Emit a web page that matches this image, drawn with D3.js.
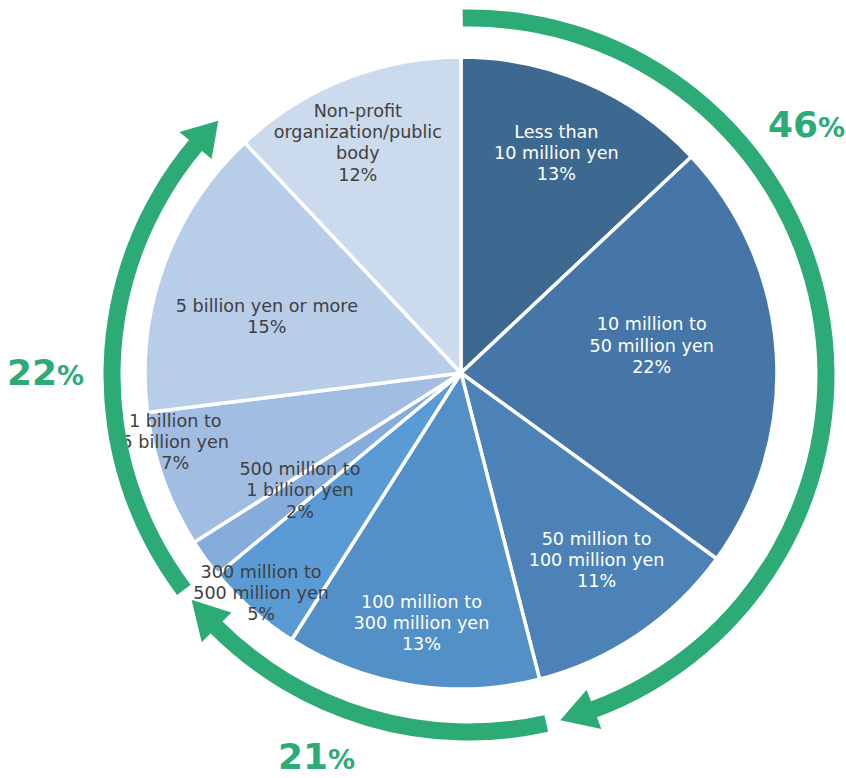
<!DOCTYPE html>
<html>
<head>
<meta charset="utf-8">
<script src="https://cdn.jsdelivr.net/npm/d3@7"></script>
<style>
  body { margin: 0; background: #ffffff; }
  svg { display: block; }
</style>
</head>
<body>
<svg id="chart" width="846" height="778"></svg>
<script>
// Capital size categories (clockwise from 12 o'clock)
const categories = [
  ["Less than", "10 million yen"],
  ["10 million to", "50 million yen"],
  ["50 million to", "100 million yen"],
  ["100 million to", "300 million yen"],
  ["300 million to", "500 million yen"],
  ["500 million to", "1 billion yen"],
  ["1 billion to", "5 billion yen"],
  ["5 billion yen or more"],
  ["Non-profit", "organization/public", "body"]
];
// Share of respondents, %
const shares = [13, 22, 11, 13, 5, 2, 7, 15, 12];
const sliceColors = ["#3d6991", "#4676a7", "#4c82b8", "#5390c7", "#5a9ad5",
                     "#86acdb", "#a2bde2", "#b8cde8", "#cbdaed"];
const labelColors = ["#ffffff", "#ffffff", "#ffffff", "#ffffff", "#404040",
                     "#404040", "#404040", "#404040", "#404040"];
// Group totals shown around the ring (small / mid / large companies)
const groupShares = [46, 21, 22];

// Label placement: fraction of radius and angular nudge (degrees)
const labelRadius = [0.76, 0.61, 0.73, 0.80, 0.94, 0.63, 0.93, 0.64, 0.80];
const labelTurn   = [0, -4.7, -1.8, 0, 0.9, 0, 6.3, -3.5, -2.5];

const svg = d3.select("#chart");
const cx = 461, cy = 373, R = 316;
const deg = Math.PI / 180;

const pie = d3.pie().sort(null).value(d => d);
const arcs = pie(shares);
const arcGen = d3.arc().innerRadius(0).outerRadius(R);

const g = svg.append("g").attr("transform", `translate(${cx},${cy})`);

g.selectAll("path.slice")
  .data(arcs)
  .join("path")
  .attr("class", "slice")
  .attr("d", arcGen)
  .attr("fill", (d, i) => sliceColors[i])
  .attr("stroke", "#ffffff")
  .attr("stroke-width", 3.5)
  .attr("stroke-linejoin", "round");

const lineH = 21.3;
g.selectAll("text.lbl")
  .data(arcs)
  .join("text")
  .attr("class", "lbl")
  .attr("text-anchor", "middle")
  .attr("font-family", "DejaVu Sans, Verdana, sans-serif")
  .attr("font-size", 17.6)
  .attr("fill", (d, i) => labelColors[i])
  .each(function(d, i) {
    const a = (d.startAngle + d.endAngle) / 2 + labelTurn[i] * deg;
    const r = R * labelRadius[i];
    const x = r * Math.sin(a), y = -r * Math.cos(a);
    const lines = categories[i].concat([d.data + "%"]);
    const n = lines.length;
    const t = d3.select(this);
    lines.forEach((s, k) => {
      t.append("tspan")
        .attr("x", x)
        .attr("y", y + (k - (n - 1) / 2) * lineH + 6.4)
        .text(s);
    });
  });

// Green arrows grouping the size classes
const green = "#2dab76";
const rcx = cx + 8, rcy = cy + 2, rr = 357, band = 17, headHalf = 21;
const arrowSpans = [
  { from: -1,    base: 159.5, tip: 165.2 },
  { from: 167.5, base: 225,   tip: 231 },
  { from: 233,   base: 310,   tip: 315.4 }
];
const ring = svg.append("g").attr("transform", `translate(${rcx},${rcy})`);
const bandArc = d3.arc().innerRadius(rr - band / 2).outerRadius(rr + band / 2);
const polar = (a, r) => [r * Math.sin(a * deg), -r * Math.cos(a * deg)];

arrowSpans.forEach(s => {
  ring.append("path")
    .attr("d", bandArc({ startAngle: s.from * deg, endAngle: (s.base + 0.3) * deg }))
    .attr("fill", green);
  const pts = [polar(s.base, rr - headHalf), polar(s.tip, rr), polar(s.base, rr + headHalf)];
  ring.append("path")
    .attr("d", d3.line()(pts) + "Z")
    .attr("fill", green);
});

// Group total labels: right (small), bottom (mid), left (large)
const groupLabelPos = [[299, -238], [-191, 394], [-462, 10]];
groupShares.forEach((v, i) => {
  const t = ring.append("text")
    .attr("x", groupLabelPos[i][0])
    .attr("y", groupLabelPos[i][1])
    .attr("font-family", "DejaVu Sans, Verdana, sans-serif")
    .attr("font-weight", "bold")
    .attr("fill", green);
  t.append("tspan").attr("font-size", 36).text(v);
  t.append("tspan").attr("font-size", 27).text("%");
});
</script>
</body>
</html>
